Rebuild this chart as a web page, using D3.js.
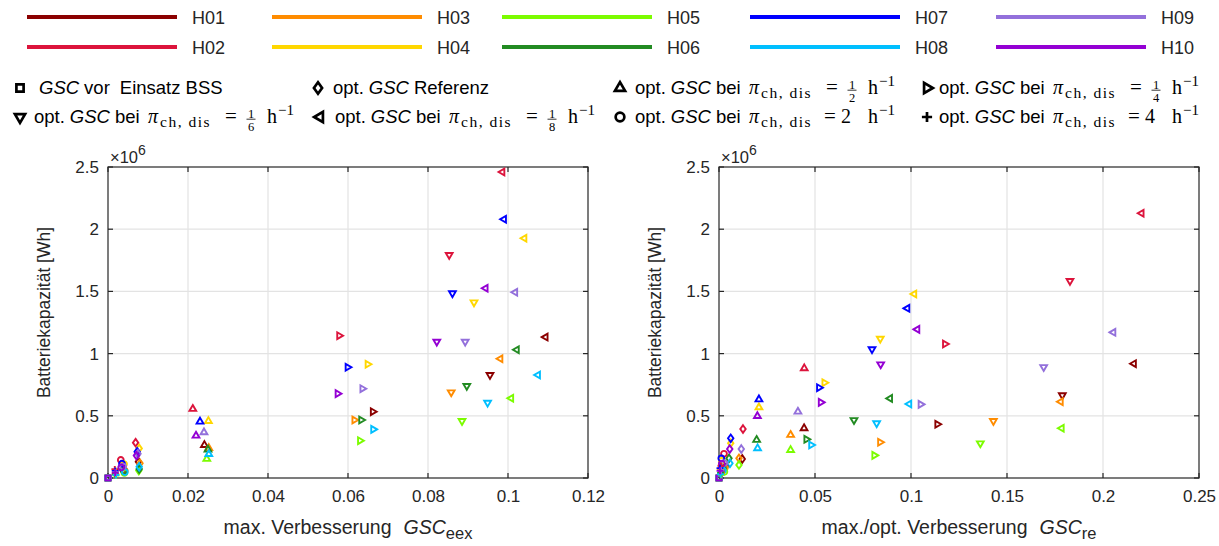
<!DOCTYPE html>
<html><head><meta charset="utf-8">
<script src="https://cdn.jsdelivr.net/npm/d3@7"></script>
<style>
body{margin:0;background:#fff}
text{font-family:"Liberation Sans",Arial,Helvetica,sans-serif}
</style></head>
<body><svg id="c" width="1219" height="546"></svg>
<script>
// ---------------- DATA ----------------
const houses = ["H01","H02","H03","H04","H05","H06","H07","H08","H09","H10"];
const houseColors = ["#8B0000","#DC143C","#FF8C00","#FFD700","#7CFC00","#228B22","#0000FF","#00BFFF","#9370DB","#9400D3"];

const yTicks = [0,0.5,1,1.5,2,2.5];
const yTickLabels = ["0","0.5","1","1.5","2","2.5"];
const xTicksLeft = [0,0.02,0.04,0.06,0.08,0.1,0.12];
const xTickLabelsLeft = ["0","0.02","0.04","0.06","0.08","0.1","0.12"];
const xTicksRight = [0,0.05,0.1,0.15,0.2,0.25];
const xTickLabelsRight = ["0","0.05","0.1","0.15","0.2","0.25"];

// battery capacity in 10^6 Wh, order H01..H10
// Left panel: x = GSC_eex
const L_before_x = [0,0,0,0,0,0,0,0,0,0];
const L_before_y = [0,0,0,0,0,0,0,0,0,0];
const L_ref_x = [0.0076,0.0069,0.0080,0.0078,0.0077,0.0078,0.0073,0.0078,0.0075,0.0071];
const L_ref_y = [0.131,0.284,0.118,0.238,0.060,0.072,0.211,0.090,0.195,0.180];
const L_half_x = [0.0241,0.0212,0.0252,0.0251,0.0247,0.0250,0.0230,0.0252,0.0240,0.0220];
const L_half_y = [0.265,0.555,0.240,0.458,0.153,0.228,0.453,0.192,0.367,0.340];
const L_quarter_x = [0.0662,0.0578,0.0616,0.0649,0.0630,0.0633,0.0599,0.0663,0.0636,0.0574];
const L_quarter_y = [0.533,1.144,0.466,0.914,0.300,0.466,0.890,0.391,0.718,0.678];
const L_sixth_x = [0.0955,0.0853,0.0858,0.0915,0.0885,0.0897,0.0861,0.0949,0.0893,0.0822];
const L_sixth_y = [0.828,1.793,0.689,1.412,0.458,0.740,1.485,0.605,1.096,1.096];
const L_eighth_x = [0.1094,0.0986,0.0981,0.1041,0.1008,0.1022,0.0990,0.1075,0.1018,0.0944];
const L_eighth_y = [1.133,2.460,0.959,1.927,0.641,1.031,2.080,0.828,1.493,1.525];
const L_two_x = [0.0038,0.0032,0.0042,0.0040,0.0041,0.0040,0.0035,0.0042,0.0038,0.0033];
const L_two_y = [0.066,0.145,0.059,0.112,0.040,0.059,0.115,0.048,0.092,0.085];
const L_four_x = [0.0018,0.0017,0.0020,0.0019,0.0020,0.0019,0.0018,0.0020,0.0019,0.0018];
const L_four_y = [0.036,0.070,0.029,0.057,0.019,0.029,0.057,0.024,0.046,0.043];

// Right panel: x = GSC_re
const R_before_x = [0,0,0,0,0,0,0,0,0,0];
const R_before_y = [0,0,0,0,0,0,0,0,0,0];
const R_ref_x = [0.0121,0.0125,0.0104,0.0061,0.0104,0.0052,0.0061,0.0057,0.0116,0.0056];
const R_ref_y = [0.153,0.394,0.158,0.280,0.105,0.158,0.319,0.118,0.233,0.233];
const R_half_x = [0.0443,0.0444,0.0373,0.0208,0.0373,0.0196,0.0208,0.0201,0.0411,0.0200];
const R_half_y = [0.400,0.882,0.346,0.568,0.225,0.306,0.632,0.239,0.533,0.498];
const R_quarter_x = [0.1137,0.1177,0.0839,0.0549,0.0809,0.0455,0.0521,0.0480,0.1050,0.0530];
const R_quarter_y = [0.432,1.077,0.287,0.766,0.182,0.311,0.726,0.265,0.592,0.608];
const R_sixth_x = [0.1788,0.1828,0.1429,0.0840,0.1361,0.0703,0.0797,0.0821,0.1691,0.0842];
const R_sixth_y = [0.665,1.584,0.458,1.120,0.279,0.466,1.035,0.440,0.892,0.914];
const R_eighth_x = [0.2161,0.2201,0.1780,0.1017,0.1785,0.0891,0.0981,0.0991,0.2054,0.1033];
const R_eighth_y = [0.919,2.128,0.613,1.479,0.400,0.640,1.364,0.595,1.171,1.195];
const R_two_x = [0.0030,0.0026,0.0030,0.0015,0.0028,0.0020,0.0012,0.0020,0.0028,0.0015];
const R_two_y = [0.090,0.195,0.080,0.140,0.050,0.080,0.158,0.060,0.120,0.115];
const R_four_x = [0.0012,0.0010,0.0012,0.0006,0.0012,0.0008,0.0005,0.0008,0.0011,0.0005];
const R_four_y = [0.045,0.098,0.040,0.070,0.025,0.040,0.079,0.030,0.060,0.058];

const markerTypes = ["square","diamond","triUp","triRight","triDown","triLeft","circle","plus"];
const rateFractions = ["1/2","1/4","1/6","1/8"];
const rateWholes = ["2","4"];

// ---------------- DRAW ----------------
const svg = d3.select("#c");
const AX = "#262626";
const SERIF = '"Liberation Serif","Times New Roman",serif';

function symPath(type, k){
  k = k || 1;
  const t = 3.9*k, c = 2.9*k, d = 3.4*k, s = 2.4*k, p = 3.4*k;
  switch(type){
    case "square": return `M${-s},${-s}H${s}V${s}H${-s}Z`;
    case "diamond": return `M0,${-d-0.4*k}L${d*0.8},0L0,${d+0.4*k}L${-d*0.8},0Z`;
    case "triUp": return `M0,${-t}L${t*0.87},${t*0.5}L${-t*0.87},${t*0.5}Z`;
    case "triDown": return `M0,${t}L${t*0.87},${-t*0.5}L${-t*0.87},${-t*0.5}Z`;
    case "triRight": return `M${t},0L${-t*0.5},${t*0.87}L${-t*0.5},${-t*0.87}Z`;
    case "triLeft": return `M${-t},0L${t*0.5},${t*0.87}L${t*0.5},${-t*0.87}Z`;
    case "circle": return `M${c},0A${c},${c} 0 1,1 ${-c},0A${c},${c} 0 1,1 ${c},0Z`;
    case "plus": return `M${-p},0H${p}M0,${-p}V${p}`;
  }
}

const yScale = d3.scaleLinear().domain([0,2.5]).range([478,167]);

const panels = [
  {x0:108, x1:588, domain:[0,0.12], ticks:xTicksLeft, labels:xTickLabelsLeft, xlab:"max. Verbesserung", sub:"eex", ylabX:50,
   sets:[[L_before_x,L_before_y],[L_ref_x,L_ref_y],[L_half_x,L_half_y],[L_quarter_x,L_quarter_y],[L_sixth_x,L_sixth_y],[L_eighth_x,L_eighth_y],[L_two_x,L_two_y],[L_four_x,L_four_y]]},
  {x0:719, x1:1199, domain:[0,0.25], ticks:xTicksRight, labels:xTickLabelsRight, xlab:"max./opt. Verbesserung", sub:"re", ylabX:661,
   sets:[[R_before_x,R_before_y],[R_ref_x,R_ref_y],[R_half_x,R_half_y],[R_quarter_x,R_quarter_y],[R_sixth_x,R_sixth_y],[R_eighth_x,R_eighth_y],[R_two_x,R_two_y],[R_four_x,R_four_y]]}
];

panels.forEach(P=>{
  const x = d3.scaleLinear().domain(P.domain).range([P.x0,P.x1]);
  const g = svg.append("g");
  const top = yScale(2.5), bot = yScale(0);
  g.selectAll(".gx").data(P.ticks.slice(1,-1)).join("line")
    .attr("x1",d=>x(d)).attr("x2",d=>x(d)).attr("y1",top).attr("y2",bot)
    .attr("stroke","#e3e3e3").attr("stroke-width",1.2);
  g.selectAll(".gy").data(yTicks.slice(1,-1)).join("line")
    .attr("y1",d=>yScale(d)).attr("y2",d=>yScale(d)).attr("x1",P.x0).attr("x2",P.x1)
    .attr("stroke","#e3e3e3").attr("stroke-width",1.2);
  const xa = d3.axisBottom(x).tickValues(P.ticks).tickFormat((d,i)=>P.labels[i]).tickSize(0).tickPadding(12);
  const xg = g.append("g").attr("transform",`translate(0,${bot})`).call(xa);
  xg.select(".domain").remove();
  xg.selectAll("text").attr("fill",AX).style("font-size","17px").style("font-family",'"Liberation Sans",Arial,sans-serif');
  const ya = d3.axisLeft(yScale).tickValues(yTicks).tickFormat((d,i)=>yTickLabels[i]).tickSize(0).tickPadding(9);
  const yg = g.append("g").attr("transform",`translate(${P.x0},0)`).call(ya);
  yg.select(".domain").remove();
  yg.selectAll("text").attr("fill",AX).style("font-size","17px").style("font-family",'"Liberation Sans",Arial,sans-serif');
  P.ticks.forEach(t=>{
    g.append("line").attr("x1",x(t)).attr("x2",x(t)).attr("y1",bot).attr("y2",bot-5).attr("stroke",AX).attr("stroke-width",1.2);
    g.append("line").attr("x1",x(t)).attr("x2",x(t)).attr("y1",top).attr("y2",top+5).attr("stroke",AX).attr("stroke-width",1.2);
  });
  yTicks.forEach(t=>{
    g.append("line").attr("y1",yScale(t)).attr("y2",yScale(t)).attr("x1",P.x0).attr("x2",P.x0+5).attr("stroke",AX).attr("stroke-width",1.2);
    g.append("line").attr("y1",yScale(t)).attr("y2",yScale(t)).attr("x1",P.x1).attr("x2",P.x1-5).attr("stroke",AX).attr("stroke-width",1.2);
  });
  g.append("rect").attr("x",P.x0).attr("y",top).attr("width",P.x1-P.x0).attr("height",bot-top)
    .attr("fill","none").attr("stroke",AX).attr("stroke-width",1.2);
  const ex = g.append("text").attr("x",P.x0+2).attr("y",163).attr("fill",AX).style("font-size","16.5px");
  ex.append("tspan").text("×10");
  ex.append("tspan").attr("dy",-8).style("font-size","14px").text("6");
  const xl = g.append("text").attr("x",(P.x0+P.x1)/2).attr("y",534).attr("text-anchor","middle").attr("fill",AX).style("font-size","19.5px");
  xl.append("tspan").text(P.xlab);
  xl.append("tspan").attr("dx",12).style("font-style","italic").text("GSC");
  xl.append("tspan").attr("dy",5).style("font-size","16.5px").text(P.sub);
  g.append("text").attr("transform",`translate(${P.ylabX},${(top+bot)/2-10}) rotate(-90)`).attr("text-anchor","middle")
    .attr("fill",AX).style("font-size","17.5px").text("Batteriekapazität [Wh]");
  P.sets.forEach((s,k)=>{
    const type = markerTypes[k];
    const pts = houses.map((h,i)=>({x:s[0][i], y:s[1][i], c:houseColors[i]}));
    g.append("g").selectAll("path").data(pts).join("path")
      .attr("d",symPath(type))
      .attr("transform",d=>`translate(${x(d.x)},${yScale(d.y)})`)
      .attr("fill","none").attr("stroke",d=>d.c).attr("stroke-width",1.9);
  });
});

// ---------- color legend ----------
const legColStarts = [27,272,502,750,996];
houses.forEach((h,i)=>{
  const x1 = legColStarts[Math.floor(i/2)], row = i%2;
  const yy = row===0?17:47;
  svg.append("line").attr("x1",x1).attr("x2",x1+150).attr("y1",yy).attr("y2",yy)
    .attr("stroke",houseColors[i]).attr("stroke-width",4);
  svg.append("text").attr("x",x1+165).attr("y",yy+7).attr("fill","#262626").style("font-size","18px").text(h);
});

// ---------- marker legend ----------
function txt(x,y,s,opt){
  const t = svg.append("text").attr("x",x).attr("y",y).attr("fill","#000").text(s)
    .style("font-size",(opt.size||18.5)+"px");
  if(opt.serif) t.style("font-family",SERIF);
  if(opt.it) t.style("font-style","italic");
  if(opt.ls) t.style("letter-spacing",opt.ls+"px");
  if(opt.anchor) t.attr("text-anchor",opt.anchor);
  return t;
}
function optGSC(x, base, rest){
  let t = txt(x, base, "opt.", {});
  let cx = x + t.node().getComputedTextLength() + 5;
  t = txt(cx, base, "GSC", {it:true});
  cx += t.node().getComputedTextLength() + 5;
  txt(cx, base, rest, {});
}
function mathItem(x, base, val, isFrac){
  optGSC(x, base, "bei");
  txt(x+114, base, "π", {serif:true, it:true, size:20});
  txt(x+126, base+4, "ch, dis", {serif:true, size:15.5, ls:1.5});
  if(isFrac){
    txt(x+191, base, "=", {serif:true, size:21});
    const [n,dn] = val.split("/");
    const fc = x+217;
    txt(fc, base-5.5, n, {serif:true, size:12.5, anchor:"middle"});
    svg.append("line").attr("x1",fc-4.5).attr("x2",fc+4.5).attr("y1",base-3.8).attr("y2",base-3.8).attr("stroke","#000").attr("stroke-width",0.8);
    txt(fc, base+7.5, dn, {serif:true, size:12.5, anchor:"middle"});
  } else {
    txt(x+189, base, "=", {serif:true, size:21});
    txt(x+206, base, val, {serif:true, size:20});
  }
  txt(x+233, base, "h", {serif:true, size:20});
  txt(x+244, base-8, "−1", {serif:true, size:15});
}
const legItems = [
  {type:"square", mx:20, tx:39, row:0, kind:"before"},
  {type:"diamond", mx:318, tx:333, row:0, kind:"ref"},
  {type:"triUp", mx:620, tx:635, row:0, kind:"frac", val:rateFractions[0]},
  {type:"triRight", mx:927, tx:939, row:0, kind:"frac", val:rateFractions[1]},
  {type:"triDown", mx:20, tx:34, row:1, kind:"frac", val:rateFractions[2]},
  {type:"triLeft", mx:320, tx:335, row:1, kind:"frac", val:rateFractions[3]},
  {type:"circle", mx:620, tx:635, row:1, kind:"whole", val:rateWholes[0]},
  {type:"plus", mx:927, tx:939, row:1, kind:"whole", val:rateWholes[1]}
];
legItems.forEach(L=>{
  const cy = L.row===0?88:117;
  const base = cy+6;
  svg.append("path").attr("d",symPath(L.type,1.5)).attr("transform",`translate(${L.mx},${cy})`)
    .attr("fill","none").attr("stroke","#000").attr("stroke-width",2.7);
  if(L.kind==="before"){
    let t = txt(L.tx, base, "GSC", {it:true});
    let cx = L.tx + t.node().getComputedTextLength() + 5;
    t = txt(cx, base, "vor", {});
    cx += t.node().getComputedTextLength() + 10;
    txt(cx, base, "Einsatz BSS", {});
  } else if(L.kind==="ref"){
    optGSC(L.tx, base, "Referenz");
  } else {
    mathItem(L.tx, base, L.val, L.kind==="frac");
  }
});
</script></body></html>
